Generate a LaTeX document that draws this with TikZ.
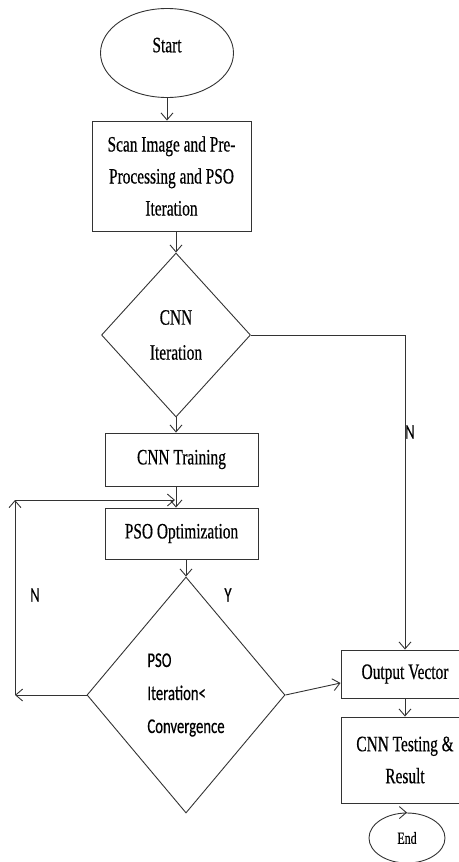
\documentclass[tikz,border=0pt]{standalone}
\usepackage{fontspec}
\setmainfont{Liberation Serif}[FakeStretch=0.7,FakeBold=0.4]
\newfontfamily\calib{Carlito}[FakeStretch=0.7,FakeBold=0.3]
\usetikzlibrary{shapes.geometric,arrows.meta}
\begin{document}
\begin{tikzpicture}[x=1pt,y=-1pt,
  line/.style={draw=black!80, line width=0.9pt},
  flow/.style={line, -{Straight Barb[length=7pt,width=12pt]}},
  box/.style={line, rectangle, inner sep=0pt, align=center, font=\fontsize{22}{32}\selectfont},
  dia/.style={line, diamond, inner sep=0pt, align=center, font=\fontsize{22}{35}\selectfont},
  oval/.style={line, ellipse, inner sep=0pt, font=\fontsize{22}{32}\selectfont},
  lbl/.style={font=\calib\fontsize{21}{25}\selectfont, inner sep=0pt}]
\useasboundingbox (0,0) rectangle (458,862);
\node[oval, minimum width=133, minimum height=89, text depth=16pt] (start) at (167,53) {Start};
\node[box, minimum width=159, minimum height=110] (scan) at (171.5,176) {Scan Image and Pre-\\Processing and PSO\\Iteration};
\node[dia, minimum width=149, minimum height=164] (cnnit) at (176,335) {CNN\\Iteration};
\node[box, minimum width=153, minimum height=53] (train) at (181.5,459.5) {CNN Training};
\node[box, minimum width=153, minimum height=51] (psoopt) at (181.5,533.5) {PSO Optimization};
\node[dia, minimum width=198, minimum height=236, align=left, font=\calib\fontsize{21}{33}\selectfont] (psodia) at (186,695) {PSO\\Iteration<\\Convergence};
\node[box, minimum width=128, minimum height=48] (outvec) at (405,674) {Output Vector};
\node[box, minimum width=128, minimum height=86] (test) at (405,760) {CNN Testing \&\\Result};
\node[oval, minimum width=76, minimum height=50, font=\fontsize{17}{20}\selectfont] (end) at (407,838) {End};
\node[lbl] (nright) at (410,432) {N};
\node[lbl] (nleft) at (35,595) {N};
\node[lbl] (yes) at (228,595) {Y};
\coordinate (lp1) at (15,695); \coordinate (lp2) at (15,500); \coordinate (lp3) at (175,500);
\draw[flow] (start.south) -- (start.south |- scan.north);
\draw[flow] (cnnit.north |- scan.south) -- (cnnit.north);
\draw[flow] (cnnit.south) -- (cnnit.south |- train.north);
\draw[flow] (cnnit.south |- train.south) -- (cnnit.south |- psoopt.north);
\draw[flow] (psodia.north |- psoopt.south) -- (psodia.north);
\draw[flow] (cnnit.east) -| (outvec.north);
\draw[flow] (psodia.west) -- (lp1);
\draw[flow] (lp1) -- (lp2);
\draw[flow] (lp2) -- (lp3);
\draw[flow] (psodia.east) -- ([yshift=-9pt]outvec.west);
\draw[flow] (outvec.south) -- (test.north);
\draw[flow] (end.north -| test.south) -- (end.north);
\end{tikzpicture}
\end{document}
